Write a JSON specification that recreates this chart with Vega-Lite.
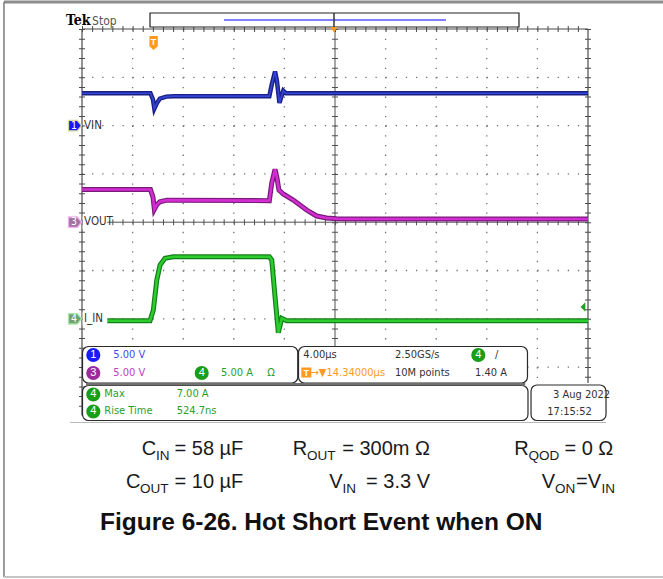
{
"$schema": "https://vega.github.io/schema/vega-lite/v6.json",
"width": 663, "height": 579, "autosize": "none", "padding": 0,
"background": "white",
"config": {"view": {"stroke": null}},
"resolve": {"scale": {"x": "independent", "y": "independent"}},
"layer": [
{
 "encoding": {
  "x": {"field": "gx", "type": "quantitative", "scale": {"domain": [0, 10], "range": [82, 588], "nice": false, "zero": false}, "axis": null},
  "y": {"field": "gy", "type": "quantitative", "scale": {"domain": [0, 8], "range": [29, 415.4], "nice": false, "zero": false}, "axis": null}
 },
 "layer": [
  {"data": {"values": [{"gx": -1.542, "gx2": 11.6, "gy": -0.559}]}, "mark": {"type": "rule", "color": "#8c8c8c", "strokeWidth": 3}, "encoding": {"x2": {"field": "gx2"}}},
  {"data": {"values": [{"gx": -1.542, "gy": -0.559, "gy2": 11.346}]}, "mark": {"type": "rule", "color": "#7a7a7a", "strokeWidth": 1.5}, "encoding": {"y2": {"field": "gy2"}}},
  {"data": {"values": [{"gx": -1.542, "gx2": 11.6, "gy": 11.346}]}, "mark": {"type": "rule", "color": "#c4c4c4", "strokeWidth": 2}, "encoding": {"x2": {"field": "gx2"}}},
  {"data": {"values": [{"gx": 1, "gy": 0, "gy2": 8}, {"gx": 2, "gy": 0, "gy2": 8}, {"gx": 3, "gy": 0, "gy2": 8}, {"gx": 4, "gy": 0, "gy2": 8}, {"gx": 6, "gy": 0, "gy2": 8}, {"gx": 7, "gy": 0, "gy2": 8}, {"gx": 8, "gy": 0, "gy2": 8}, {"gx": 9, "gy": 0, "gy2": 8}]},
   "mark": {"type": "rule", "color": "#707070", "strokeWidth": 1.3, "strokeDash": [1.3, 8.36]}, "encoding": {"y2": {"field": "gy2"}}},
  {"data": {"values": [{"gx": 0, "gx2": 10, "gy": 1}, {"gx": 0, "gx2": 10, "gy": 2}, {"gx": 0, "gx2": 10, "gy": 3}, {"gx": 0, "gx2": 10, "gy": 5}, {"gx": 0, "gx2": 10, "gy": 6}, {"gx": 0, "gx2": 10, "gy": 7}]},
   "mark": {"type": "rule", "color": "#707070", "strokeWidth": 1.3, "strokeDash": [1.3, 8.82]}, "encoding": {"x2": {"field": "gx2"}}},
  {"data": {"values": [{"gx": 5, "gy": 0, "gy2": 8}]}, "mark": {"type": "rule", "color": "#505050", "strokeWidth": 1}, "encoding": {"y2": {"field": "gy2"}}},
  {"data": {"values": [{"gx": 5, "gy": 0, "gy2": 8}]}, "mark": {"type": "rule", "color": "#505050", "strokeWidth": 6, "strokeDash": [1, 8.66]}, "encoding": {"y2": {"field": "gy2"}}},
  {"data": {"values": [{"gx": 0, "gx2": 10, "gy": 4}]}, "mark": {"type": "rule", "color": "#505050", "strokeWidth": 1}, "encoding": {"x2": {"field": "gx2"}}},
  {"data": {"values": [{"gx": 0, "gx2": 10, "gy": 4}]}, "mark": {"type": "rule", "color": "#505050", "strokeWidth": 6, "strokeDash": [1, 9.12]}, "encoding": {"x2": {"field": "gx2"}}},
  {"data": {"values": [{"gx": 0, "gy": 0, "gy2": 8}, {"gx": 10, "gy": 0, "gy2": 7.33}]}, "mark": {"type": "rule", "color": "#4a4a4a", "strokeWidth": 1.2}, "encoding": {"y2": {"field": "gy2"}}},
  {"data": {"values": [{"gx": 0, "gy": 0, "gy2": 8}, {"gx": 10, "gy": 0, "gy2": 7.33}]}, "mark": {"type": "rule", "color": "#4a4a4a", "strokeWidth": 6, "strokeDash": [1, 8.66]}, "encoding": {"y2": {"field": "gy2"}}},
  {"data": {"values": [{"gx": 0, "gx2": 10, "gy": 0}]}, "mark": {"type": "rule", "color": "#4a4a4a", "strokeWidth": 1.2}, "encoding": {"x2": {"field": "gx2"}}},
  {"data": {"values": [{"gx": 0, "gx2": 10, "gy": 0}]}, "mark": {"type": "rule", "color": "#4a4a4a", "strokeWidth": 6, "strokeDash": [1, 9.12]}, "encoding": {"x2": {"field": "gx2"}}},
  {"data": {"values": [{"gx": 1.344, "gx2": 8.636, "gy": -0.331, "gy2": -0.041}]}, "mark": {"type": "rect", "fill": "white", "stroke": "#222222", "strokeWidth": 1.2}, "encoding": {"x2": {"field": "gx2"}, "y2": {"field": "gy2"}}},
  {"data": {"values": [{"gx": 2.806, "gx2": 7.194, "gy": -0.186}]}, "mark": {"type": "rule", "color": "#5555ff", "strokeWidth": 1.5}, "encoding": {"x2": {"field": "gx2"}}},
  {"data": {"values": [{"gx": 4.98, "gy": -0.331, "gy2": -0.02}]}, "mark": {"type": "rule", "color": "#333333", "strokeWidth": 1.5}, "encoding": {"y2": {"field": "gy2"}}}
 ]
},
{
 "data": {"values": [
  {"t": -5.66, "v": 3.38}, {"t": -0.25, "v": 3.38}, {"t": -0.05, "v": 2.6}, {"t": 0.06, "v": 1.34}, {"t": 0.25, "v": 1.8}, {"t": 0.5, "v": 2.12}, {"t": 1.04, "v": 2.28}, {"t": 9.15, "v": 2.23}, {"t": 9.34, "v": 4.06}, {"t": 9.6, "v": 5.48}, {"t": 9.75, "v": 4.6}, {"t": 9.91, "v": 3.33}, {"t": 10.25, "v": 2.92}, {"t": 11.04, "v": 2.3}, {"t": 12.1, "v": 1.26}, {"t": 12.89, "v": 0.64}, {"t": 13.68, "v": 0.43}, {"t": 14.47, "v": 0.36}, {"t": 15.5, "v": 0.33}, {"t": 34.34, "v": 0.33}
 ]},
 "encoding": {
  "x": {"field": "t", "type": "quantitative", "scale": {"domain": [-5.66, 34.34], "range": [82, 588], "nice": false, "zero": false}, "axis": null},
  "y": {"field": "v", "type": "quantitative", "scale": {"domain": [-20, 20], "range": [415.4, 29], "nice": false, "zero": false}, "axis": null}
 },
 "layer": [
  {"mark": {"type": "line", "color": "#7a1a7a", "strokeWidth": 5}, "encoding": {}},
  {"mark": {"type": "line", "color": "#d22ed2", "strokeWidth": 2.6}, "encoding": {}}
 ]
},
{
 "data": {"values": [
  {"t": -5.66, "v": 3.35}, {"t": -0.25, "v": 3.35}, {"t": -0.05, "v": 2.7}, {"t": 0.06, "v": 1.75}, {"t": 0.25, "v": 2.3}, {"t": 0.5, "v": 2.8}, {"t": 1.0, "v": 3.0}, {"t": 1.6, "v": 3.05}, {"t": 9.15, "v": 3.05}, {"t": 9.35, "v": 4.3}, {"t": 9.6, "v": 5.6}, {"t": 9.75, "v": 4.6}, {"t": 9.95, "v": 2.35}, {"t": 10.1, "v": 3.0}, {"t": 10.25, "v": 3.6}, {"t": 10.45, "v": 3.35}, {"t": 34.34, "v": 3.35}
 ]},
 "encoding": {
  "x": {"field": "t", "type": "quantitative", "scale": {"domain": [-5.66, 34.34], "range": [82, 588], "nice": false, "zero": false}, "axis": null},
  "y": {"field": "v", "type": "quantitative", "scale": {"domain": [-30, 10], "range": [415.4, 29], "nice": false, "zero": false}, "axis": null}
 },
 "layer": [
  {"mark": {"type": "line", "color": "#1c1f86", "strokeWidth": 4.5}, "encoding": {}},
  {"mark": {"type": "line", "color": "#3347d6", "strokeWidth": 1.6}, "encoding": {}}
 ]
},
{
 "data": {"values": [
  {"t": -3.71, "a": -0.2}, {"t": -0.28, "a": -0.2}, {"t": -0.02, "a": 0.91}, {"t": 0.25, "a": 4.0}, {"t": 0.51, "a": 5.57}, {"t": 0.9, "a": 6.26}, {"t": 1.56, "a": 6.43}, {"t": 9.15, "a": 6.43}, {"t": 9.34, "a": 6.09}, {"t": 9.6, "a": 2.29}, {"t": 9.86, "a": -1.44}, {"t": 10.13, "a": 0.05}, {"t": 10.52, "a": -0.2}, {"t": 34.34, "a": -0.2}
 ]},
 "encoding": {
  "x": {"field": "t", "type": "quantitative", "scale": {"domain": [-5.66, 34.34], "range": [82, 588], "nice": false, "zero": false}, "axis": null},
  "y": {"field": "a", "type": "quantitative", "scale": {"domain": [-10, 30], "range": [415.4, 29], "nice": false, "zero": false}, "axis": null}
 },
 "layer": [
  {"mark": {"type": "line", "color": "#12801a", "strokeWidth": 5}, "encoding": {}},
  {"mark": {"type": "line", "color": "#2ccc2c", "strokeWidth": 2.6}, "encoding": {}}
 ]
},
{
 "encoding": {
  "x": {"field": "gx", "type": "quantitative", "scale": {"domain": [0, 10], "range": [82, 588], "nice": false, "zero": false}, "axis": null},
  "y": {"field": "gy", "type": "quantitative", "scale": {"domain": [0, 8], "range": [29, 415.4], "nice": false, "zero": false}, "axis": null}
 },
 "layer": [
  {"data": {"values": [{"gx": 0.012, "gx2": 0.5, "gy": 3.86, "gy2": 4.14}, {"gx": 0.012, "gx2": 0.5, "gy": 5.86, "gy2": 6.14}]}, "mark": {"type": "rect", "fill": "white"}, "encoding": {"x2": {"field": "gx2"}, "y2": {"field": "gy2"}}},
  {"data": {"values": [{"gx": 0.04, "gy": 2, "label": "VIN"}, {"gx": 0.04, "gy": 4, "label": "VOUT"}, {"gx": 0.04, "gy": 6, "label": "I_IN"}]},
   "mark": {"type": "text", "align": "left", "baseline": "middle", "font": "Liberation Sans Narrow, DejaVu Sans Condensed, Arial Narrow, Roboto, sans-serif", "fontSize": 11.5, "color": "#333333"}, "encoding": {"text": {"field": "label"}}},
  {"data": {"values": [{"gx": -0.138, "gy": 2, "ch": "1"}, {"gx": -0.138, "gy": 4, "ch": "3"}, {"gx": -0.138, "gy": 6, "ch": "4"}]},
   "layer": [
    {"mark": {"type": "point", "shape": "M-1,-0.8L0.35,-0.8L1,0L0.35,0.8L-1,0.8Z", "size": 170, "filled": true, "opacity": 1, "strokeWidth": 1.3},
     "encoding": {"fill": {"field": "ch", "type": "nominal", "scale": {"domain": ["1", "3", "4"], "range": ["#1818f0", "#a272a2", "#72a272"]}, "legend": null},
                  "stroke": {"field": "ch", "type": "nominal", "scale": {"domain": ["1", "3", "4"], "range": ["#d8d8a0", "#f0b0f0", "#a8e8a8"]}, "legend": null}}},
    {"mark": {"type": "text", "align": "center", "baseline": "middle", "dx": -1, "font": "Liberation Sans Narrow, DejaVu Sans Condensed, Roboto, sans-serif", "fontSize": 10.5, "color": "white"}, "encoding": {"text": {"field": "ch"}}}
   ]},
  {"data": {"values": [{"gx": 1.415, "gy": 0.29, "m": "T"}]},
   "layer": [
    {"mark": {"type": "point", "shape": "M-0.6,-1L0.6,-1L0.6,0.45L0,1L-0.6,0.45Z", "size": 196, "filled": true, "opacity": 1, "color": "#ff9a1e"}, "encoding": {}},
    {"mark": {"type": "text", "align": "center", "baseline": "middle", "dy": -1, "font": "Liberation Sans, sans-serif", "fontWeight": "bold", "fontSize": 9, "color": "white"}, "encoding": {"text": {"field": "m"}}}
   ]},
  {"data": {"values": [{"gx": 4.98, "gy": 0.02}]}, "mark": {"type": "point", "shape": "triangle-down", "size": 45, "filled": true, "opacity": 1, "color": "#ff9a1e"}, "encoding": {}},
  {"data": {"values": [{"gx": 9.9, "gy": 5.756}]}, "mark": {"type": "point", "shape": "M0.5,-1L-0.5,0L0.5,1Z", "size": 90, "filled": true, "opacity": 1, "color": "#22a022"}, "encoding": {}},
  {"data": {"values": [{"gx": -0.316, "gy": -0.083, "label": "Tek"}]}, "mark": {"type": "text", "align": "left", "baseline": "alphabetic", "font": "DejaVu Serif Condensed, Liberation Serif, serif", "fontWeight": "bold", "fontSize": 14, "color": "#000000"}, "encoding": {"text": {"field": "label"}}},
  {"data": {"values": [{"gx": 0.2, "gy": -0.083, "label": "Stop"}]}, "mark": {"type": "text", "align": "left", "baseline": "alphabetic", "font": "Liberation Sans Narrow, DejaVu Sans Condensed, Roboto, sans-serif", "fontSize": 12, "color": "#555555"}, "encoding": {"text": {"field": "label"}}},
  {"data": {"values": [{"gx": 0.01, "gx2": 4.264, "gy": 6.573, "gy2": 7.329}, {"gx": 4.279, "gx2": 8.804, "gy": 6.573, "gy2": 7.329}, {"gx": 0.01, "gx2": 8.814, "gy": 7.381, "gy2": 8.106}, {"gx": 8.874, "gx2": 10.356, "gy": 7.371, "gy2": 8.106}]},
   "mark": {"type": "rect", "fill": "white", "stroke": "#2a2a2a", "strokeWidth": 1.2, "cornerRadius": 6}, "encoding": {"x2": {"field": "gx2"}, "y2": {"field": "gy2"}}},
  {"data": {"values": [{"gx": 0.08, "gx2": 8.76, "gy": 7.355}]}, "mark": {"type": "rule", "color": "#707070", "strokeWidth": 2.5}, "encoding": {"x2": {"field": "gx2"}}},
  {"data": {"values": [{"gx": -0.237, "gx2": 10.356, "gy": 8.147}]}, "mark": {"type": "rule", "color": "#b8b8b8", "strokeWidth": 1}, "encoding": {"x2": {"field": "gx2"}}},
  {"data": {"values": [{"gx": 0.2233, "gy": 6.75, "n": "1", "c": "b"}, {"gx": 0.2233, "gy": 7.122, "n": "3", "c": "p"}, {"gx": 2.3656, "gy": 7.122, "n": "4", "c": "g"}, {"gx": 7.832, "gy": 6.75, "n": "4", "c": "g"}, {"gx": 0.2233, "gy": 7.567, "n": "4", "c": "g"}, {"gx": 0.2233, "gy": 7.919, "n": "4", "c": "g"}]},
   "layer": [
    {"mark": {"type": "point", "shape": "circle", "size": 200, "filled": true, "opacity": 1}, "encoding": {"color": {"field": "c", "type": "nominal", "scale": {"domain": ["b", "p", "g"], "range": ["#1a1aff", "#9c2a9c", "#1a9e1a"]}, "legend": null}}},
    {"mark": {"type": "text", "align": "center", "baseline": "middle", "font": "Liberation Sans, sans-serif", "fontSize": 11, "color": "white"}, "encoding": {"text": {"field": "n"}}}
   ]},
  {"data": {"values": [{"gx": 4.433, "gy": 7.112, "m": "T"}]},
   "layer": [
    {"mark": {"type": "point", "shape": "square", "size": 100, "filled": true, "opacity": 1, "color": "#ff9a1e"}, "encoding": {}},
    {"mark": {"type": "text", "align": "center", "baseline": "middle", "font": "Liberation Sans, sans-serif", "fontWeight": "bold", "fontSize": 9, "color": "white"}, "encoding": {"text": {"field": "m"}}}
   ]},
  {"data": {"values": [{"gx": 0.6186, "gy": 6.75, "label": "5.00 V"}]}, "mark": {"type": "text", "align": "left", "baseline": "middle", "font": "Liberation Sans Narrow, DejaVu Sans Condensed, Roboto, sans-serif", "fontSize": 11, "color": "#4848ff"}, "encoding": {"text": {"field": "label"}}},
  {"data": {"values": [{"gx": 0.6186, "gy": 7.122, "label": "5.00 V"}]}, "mark": {"type": "text", "align": "left", "baseline": "middle", "font": "Liberation Sans Narrow, DejaVu Sans Condensed, Roboto, sans-serif", "fontSize": 11, "color": "#c040c0"}, "encoding": {"text": {"field": "label"}}},
  {"data": {"values": [{"gx": 2.747, "gy": 7.122, "label": "5.00 A"}, {"gx": 3.662, "gy": 7.122, "label": "Ω"}, {"gx": 0.4407, "gy": 7.567, "label": "Max"}, {"gx": 1.871, "gy": 7.567, "label": "7.00 A"}, {"gx": 0.4407, "gy": 7.919, "label": "Rise Time"}, {"gx": 1.871, "gy": 7.919, "label": "524.7ns"}]},
   "mark": {"type": "text", "align": "left", "baseline": "middle", "font": "Liberation Sans Narrow, DejaVu Sans Condensed, Roboto, sans-serif", "fontSize": 11, "color": "#2aa02a"}, "encoding": {"text": {"field": "label"}}},
  {"data": {"values": [{"gx": 4.373, "gy": 6.75, "label": "4.00µs"}, {"gx": 6.186, "gy": 6.75, "label": "2.50GS/s"}, {"gx": 6.186, "gy": 7.122, "label": "10M points"}, {"gx": 7.767, "gy": 7.122, "label": "1.40 A"}, {"gx": 8.162, "gy": 6.75, "label": "/"}, {"gx": 9.308, "gy": 7.578, "label": "3 Aug 2022"}, {"gx": 9.196, "gy": 7.926, "label": "17:15:52"}]},
   "mark": {"type": "text", "align": "left", "baseline": "middle", "font": "Liberation Sans Narrow, DejaVu Sans Condensed, Roboto, sans-serif", "fontSize": 11, "color": "#333333"}, "encoding": {"text": {"field": "label"}}},
  {"data": {"values": [{"gx": 4.516, "gy": 7.122, "label": "→▼14.34000µs"}]}, "mark": {"type": "text", "align": "left", "baseline": "middle", "font": "Liberation Sans Narrow, DejaVu Sans Condensed, Roboto, sans-serif", "fontSize": 11, "color": "#ff9a1e"}, "encoding": {"text": {"field": "label"}}},
  {"data": {"values": [{"gx": 1.18, "gy": 8.82, "label": "C"}, {"gx": 4.164, "gy": 8.82, "label": "R"}, {"gx": 8.543, "gy": 8.82, "label": "R"}, {"gx": 0.87, "gy": 9.503, "label": "C"}, {"gx": 4.887, "gy": 9.503, "label": "V"}, {"gx": 9.085, "gy": 9.503, "label": "V"}, {"gx": 9.763, "gy": 9.503, "label": "=V"}]},
   "mark": {"type": "text", "align": "left", "baseline": "alphabetic", "font": "Liberation Sans, Arial, sans-serif", "fontSize": 20, "color": "#1a1a1a"}, "encoding": {"text": {"field": "label"}}},
  {"data": {"values": [{"gx": 1.462, "gy": 8.924, "label": "IN"}, {"gx": 4.447, "gy": 8.924, "label": "OUT"}, {"gx": 8.824, "gy": 8.924, "label": "QOD"}, {"gx": 1.146, "gy": 9.607, "label": "OUT"}, {"gx": 5.15, "gy": 9.607, "label": "IN"}, {"gx": 9.348, "gy": 9.607, "label": "ON"}, {"gx": 10.267, "gy": 9.607, "label": "IN"}]},
   "mark": {"type": "text", "align": "left", "baseline": "alphabetic", "font": "Liberation Sans, Arial, sans-serif", "fontSize": 13.5, "color": "#1a1a1a"}, "encoding": {"text": {"field": "label"}}},
  {"data": {"values": [{"gx": 3.188, "gy": 8.82, "label": "= 58 µF"}, {"gx": 6.877, "gy": 8.82, "label": "= 300m Ω"}, {"gx": 10.5, "gy": 8.82, "label": "= 0 Ω"}, {"gx": 3.188, "gy": 9.503, "label": "= 10 µF"}, {"gx": 6.877, "gy": 9.503, "label": "= 3.3 V"}]},
   "mark": {"type": "text", "align": "right", "baseline": "alphabetic", "font": "Liberation Sans, Arial, sans-serif", "fontSize": 20, "color": "#1a1a1a"}, "encoding": {"text": {"field": "label"}}},
  {"data": {"values": [{"gx": 0.356, "gy": 10.373, "label": "Figure 6-26. Hot Short Event when ON"}]},
   "mark": {"type": "text", "align": "left", "baseline": "alphabetic", "font": "Liberation Sans, Arial, sans-serif", "fontWeight": "bold", "fontSize": 24.5, "color": "#111111"}, "encoding": {"text": {"field": "label"}}}
 ]
}
]
}
